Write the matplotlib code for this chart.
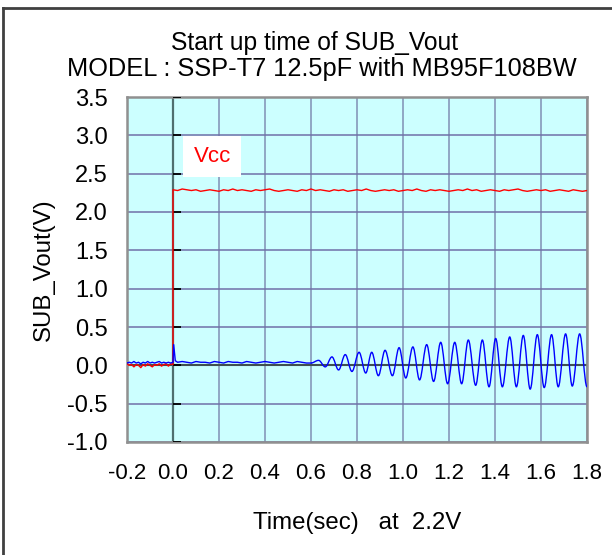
import numpy as np
import matplotlib
matplotlib.use('Agg')
import matplotlib.pyplot as plt
from matplotlib.lines import Line2D
from matplotlib.path import Path
from matplotlib.patches import PathPatch

plt.rcParams['font.family'] = ['Liberation Sans', 'DejaVu Sans']

# Vcc (czerwona) - przed startem ~0 V
vcc_pre_t = [-0.20, -0.19, -0.18, -0.17, -0.16, -0.15, -0.14, -0.13, -0.12, -0.11,
             -0.10, -0.09, -0.08, -0.07, -0.06, -0.05, -0.04, -0.03, -0.02, -0.01, 0.0]
vcc_pre_v = [0.02, 0.00, 0.01, -0.02, 0.01, 0.00, -0.03, 0.01, -0.01, 0.02,
             0.00, -0.02, 0.01, 0.00, 0.02, -0.01, 0.01, 0.02, -0.01, 0.02, 0.01]

# Vcc po starcie ~2.28 V (co 0.02 s)
vcc_t = [0.0] + [round(0.02 * i, 2) for i in range(91)]
vcc_v = [0.01,
         2.29, 2.28, 2.30, 2.29, 2.28, 2.29, 2.27, 2.28, 2.29, 2.28,
         2.27, 2.29, 2.28, 2.30, 2.28, 2.29, 2.28, 2.27, 2.29, 2.28,
         2.29, 2.30, 2.28, 2.27, 2.28, 2.29, 2.28, 2.27, 2.29, 2.28,
         2.30, 2.28, 2.29, 2.28, 2.27, 2.29, 2.28, 2.29, 2.27, 2.28,
         2.29, 2.28, 2.30, 2.28, 2.27, 2.28, 2.29, 2.28, 2.29, 2.27,
         2.28, 2.29, 2.28, 2.30, 2.28, 2.27, 2.29, 2.28, 2.29, 2.28,
         2.27, 2.28, 2.29, 2.28, 2.30, 2.28, 2.29, 2.27, 2.28, 2.29,
         2.28, 2.27, 2.29, 2.28, 2.29, 2.30, 2.28, 2.27, 2.28, 2.29,
         2.28, 2.29, 2.27, 2.28, 2.29, 2.28, 2.27, 2.29, 2.28, 2.27, 2.28]

# SUB_Vout (niebieska) - przed startem
sub_pre_t = [-0.20, -0.19, -0.18, -0.17, -0.16, -0.15, -0.14, -0.13, -0.12, -0.11,
             -0.10, -0.09, -0.08, -0.07, -0.06, -0.05, -0.04, -0.03, -0.02, -0.01, 0.0]
sub_pre_v = [0.03, 0.04, 0.03, 0.05, 0.03, 0.04, 0.02, 0.04, 0.03, 0.05,
             0.03, 0.04, 0.03, 0.04, 0.05, 0.03, 0.04, 0.03, 0.04, 0.03, 0.04]

# skok przy t=0 i plaski odcinek do 0.6 s
sub_flat_t = [0.003, 0.01, 0.02, 0.04, 0.06, 0.08, 0.10, 0.12, 0.14, 0.16, 0.18,
              0.20, 0.22, 0.24, 0.26, 0.28, 0.30, 0.32, 0.34, 0.36, 0.38,
              0.40, 0.42, 0.44, 0.46, 0.48, 0.50, 0.52, 0.54, 0.56, 0.58, 0.60]
sub_flat_v = [0.27, 0.06, 0.04, 0.05, 0.04, 0.03, 0.05, 0.04, 0.04, 0.03, 0.05,
              0.04, 0.03, 0.05, 0.04, 0.04, 0.03, 0.05, 0.04, 0.03, 0.04,
              0.05, 0.04, 0.03, 0.04, 0.05, 0.04, 0.03, 0.05, 0.04, 0.03, 0.03]

# narastajace oscylacje (ekstrema)
osc_t = [0.633, 0.662, 0.691, 0.720, 0.749, 0.778, 0.809, 0.838,
         0.864, 0.893, 0.922, 0.954, 0.983, 1.012, 1.043, 1.072, 1.103, 1.133,
         1.164, 1.194, 1.225, 1.255, 1.284, 1.316, 1.345, 1.374, 1.403, 1.432,
         1.464, 1.493, 1.523, 1.553, 1.584, 1.614, 1.646, 1.675, 1.707, 1.736,
         1.768, 1.800]
osc_v = [0.065, -0.02, 0.11, -0.06, 0.14, -0.08, 0.17, -0.10,
         0.17, -0.135, 0.196, -0.135, 0.23, -0.165, 0.24, -0.19, 0.27, -0.21,
         0.30, -0.24, 0.30, -0.24, 0.33, -0.26, 0.33, -0.28, 0.35, -0.28,
         0.37, -0.28, 0.39, -0.31, 0.40, -0.29, 0.40, -0.28, 0.41, -0.27,
         0.41, -0.28]

x_ticks = [-0.2, 0.0, 0.2, 0.4, 0.6, 0.8, 1.0, 1.2, 1.4, 1.6, 1.8]
y_ticks = [-1.0, -0.5, 0.0, 0.5, 1.0, 1.5, 2.0, 2.5, 3.0, 3.5]

fig = plt.figure(figsize=(6.12, 5.55), dpi=100)
ax = fig.add_axes([127 / 612, 1 - 442 / 555, 460 / 612, 345 / 555])
ax.set_facecolor('#CCFFFF')

for x in x_ticks:
    ax.axvline(x, color='#8090B4', lw=1.1, zorder=1)
for y in y_ticks:
    ax.axhline(y, color='#7070A8', lw=1.1, zorder=1)

ax.axhline(0, color='#405050', lw=1.5, zorder=2)
ax.axvline(0, color='#4F6F6F', lw=1.6, zorder=2)
ax.hlines(y_ticks, 0, 0.035, color='black', lw=1.3, zorder=3)

ax.plot(vcc_pre_t + vcc_t, vcc_pre_v + vcc_v, color='red', lw=1, zorder=4)
ax.plot(sub_pre_t + sub_flat_t, sub_pre_v + sub_flat_v, color='blue', lw=1, zorder=5)

# oscylacje jako gladka linia przez ekstrema (krzywe Beziera)
verts = [(sub_flat_t[-1], sub_flat_v[-1])]
codes = [Path.MOVETO]
pt, pv = sub_flat_t[-1], sub_flat_v[-1]
for t, v in zip(osc_t, osc_v):
    dt = t - pt
    verts += [(pt + 0.36 * dt, pv), (t - 0.36 * dt, v), (t, v)]
    codes += [Path.CURVE4] * 3
    pt, pv = t, v
ax.add_patch(PathPatch(Path(verts, codes), fill=False, edgecolor='blue', lw=1, zorder=5))

ax.set_xlim(-0.2, 1.8)
ax.set_ylim(-1.0, 3.5)
ax.set_xticks(x_ticks)
ax.set_xticklabels([f'{v:.1f}' for v in x_ticks])
ax.set_yticks(y_ticks)
ax.set_yticklabels([f'{v:.1f}' for v in y_ticks])
ax.tick_params(length=0)
ax.tick_params(axis='y', pad=14, labelsize=17)
ax.tick_params(axis='x', pad=15, labelsize=16)
for s in ax.spines.values():
    s.set_color('#909090')
    s.set_linewidth(1.8)

ax.text(0.17, 2.72, 'Vcc', color='red', fontsize=16, ha='center', va='center',
        bbox=dict(facecolor='white', edgecolor='none', boxstyle='square,pad=0.45'), zorder=6)

fig.text(315 / 612, 1 - 50 / 555, 'Start up time of SUB_Vout', fontsize=17.7,
         ha='center', va='baseline')
fig.text(322 / 612, 1 - 76 / 555, 'MODEL : SSP-T7 12.5pF with MB95F108BW', fontsize=18.3,
         ha='center', va='baseline')
ax.set_xlabel('Time(sec)   at  2.2V', fontsize=17.3, labelpad=20)
ax.set_ylabel('SUB_Vout(V)', fontsize=17.3, labelpad=9)

fig.add_artist(Line2D([3.5 / 612, 3.5 / 612], [0, 1 - 8 / 555], color='#404040', lw=2))
fig.add_artist(Line2D([3.5 / 612, 1], [1 - 8 / 555, 1 - 8 / 555], color='#404040', lw=2))

fig.savefig('out.png', dpi=100)
